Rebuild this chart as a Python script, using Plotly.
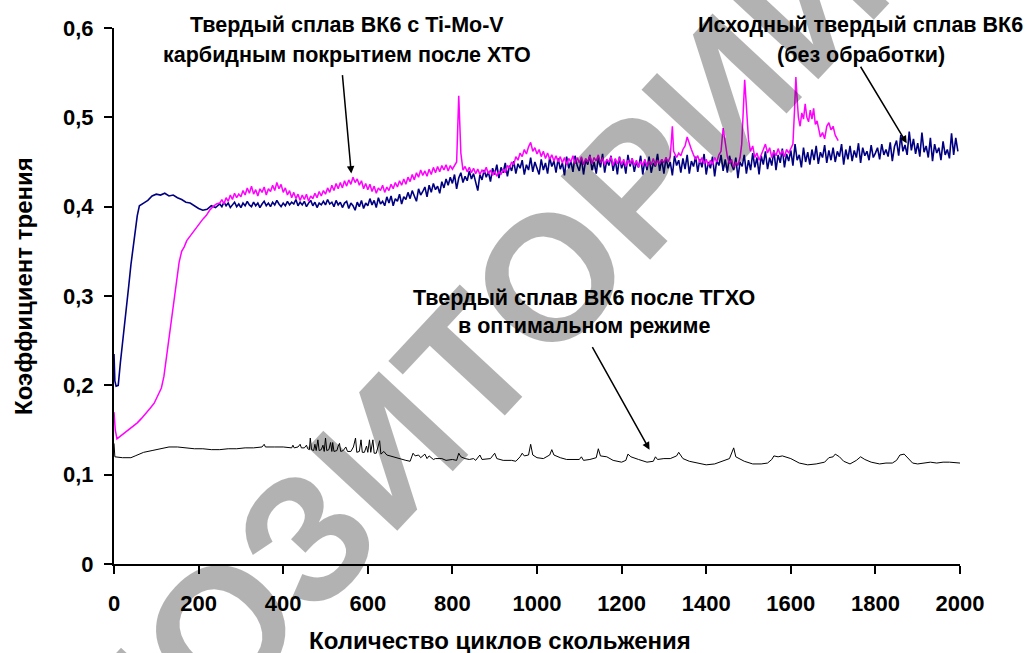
import plotly.graph_objects as go

# ---------------- data ----------------
x_ticks = [0, 200, 400, 600, 800, 1000, 1200, 1400, 1600, 1800, 2000]
x_tick_labels = ["0", "200", "400", "600", "800", "1000", "1200", "1400", "1600", "1800", "2000"]
y_ticks = [0, 0.1, 0.2, 0.3, 0.4, 0.5, 0.6]
y_tick_labels = ["0", "0,1", "0,2", "0,3", "0,4", "0,5", "0,6"]

# Исходный твердый сплав ВК6 (без обработки) - navy
navy_x = [0, 2, 5, 10, 15, 20, 25, 30, 35, 40, 45, 50, 55, 60, 65, 70, 80, 90, 100, 110,
          120, 130, 140, 150, 160, 170, 180, 190, 200, 210, 220, 230, 240] + list(range(250, 2000, 5))
navy_y = [0.235, 0.205, 0.199, 0.200, 0.225, 0.245, 0.268, 0.290, 0.312, 0.335, 0.355, 0.372,
          0.390, 0.401, 0.403, 0.404, 0.407, 0.412, 0.414, 0.413,
          0.415, 0.412, 0.413, 0.410, 0.408, 0.405, 0.404, 0.401, 0.398, 0.396, 0.397, 0.401, 0.399,
          # 250 .. 1995 step 5
          .403, .400, .405, .401, .404, .399, .402, .405, .400, .403,
          .399, .404, .401, .406, .402, .400, .405, .401, .404, .399,
          .403, .406, .401, .404, .400, .405, .402, .407, .403, .400,
          .404, .401, .406, .402, .405, .403, .408, .401, .405, .402,
          .406, .400, .404, .407, .401, .405, .399, .404, .402, .406,
          .402, .408, .403, .405, .400, .407, .402, .405, .399, .404,
          .406, .398, .404, .401, .396, .405, .400, .407, .398, .404,
          .401, .409, .402, .407, .399, .410, .403, .406, .401, .411,
          .404, .412, .401, .409, .406, .414, .403, .411, .408, .416,
          .409, .418, .412, .406, .420, .413, .417, .422, .411, .424,
          .416, .426, .419, .423, .415, .428, .421, .431, .424, .433,
          .426, .436, .420, .432, .438, .427, .434, .429, .440, .431,
          .437, .428, .418, .436, .430, .441, .433, .439, .428, .443,
          .436, .447, .432, .444, .438, .449, .434, .446, .440, .451,
          .437, .448, .443, .452, .436, .447, .441, .455, .439, .450,
          .444, .436, .453, .441, .449, .437, .455, .445, .451, .438,
          .454, .442, .449, .435, .456, .443, .451, .439, .457, .446,
          .440, .454, .436, .452, .447, .458, .441, .450, .437, .455,
          .444, .459, .438, .452, .446, .457, .440, .453, .436, .456,
          .443, .451, .437, .458, .445, .454, .439, .450, .444, .457,
          .436, .452, .441, .456, .438, .449, .445, .459, .440, .453,
          .437, .455, .443, .450, .435, .457, .446, .452, .438, .454,
          .442, .458, .437, .451, .445, .456, .439, .453, .444, .459,
          .436, .450, .443, .456, .434, .452, .446, .458, .440, .453,
          .438, .457, .447, .441, .455, .432, .450, .445, .458, .437,
          .452, .441, .460, .444, .455, .436, .457, .447, .462, .442,
          .455, .446, .463, .441, .458, .449, .465, .444, .459, .451,
          .463, .446, .470, .452, .458, .444, .466, .450, .461, .447,
          .464, .452, .468, .448, .461, .455, .469, .449, .463, .452,
          .466, .450, .462, .456, .470, .447, .464, .453, .468, .451,
          .463, .455, .471, .449, .466, .457, .462, .452, .469, .455,
          .460, .466, .453, .470, .458, .464, .456, .472, .451, .467,
          .474, .457, .480, .462, .469, .458, .484, .463, .476, .459,
          .471, .456, .483, .461, .468, .455, .477, .451, .470, .460,
          .466, .452, .473, .458, .464, .454, .482, .458, .477, .462]

# Твердый сплав ВК6 с Ti-Mo-V карбидным покрытием после ХТО - magenta
mag_head_x = [0, 3, 7, 15, 25, 35, 45, 55, 65, 75, 85, 95, 105, 112, 118, 124, 130, 136, 142, 148,
              154, 160, 166, 172, 178, 184, 190, 196, 202, 210, 218, 226, 234, 242]
mag_head_y = [0.170, 0.150, 0.140, 0.143, 0.147, 0.151, 0.155, 0.158, 0.163, 0.168, 0.174, 0.180,
              0.190, 0.197, 0.210, 0.232, 0.255, 0.275, 0.298, 0.322,
              0.338, 0.350, 0.355, 0.362, 0.366, 0.370, 0.374, 0.378, 0.381, 0.386, 0.390, 0.396,
              0.400, 0.403]
mag_mid_x = list(range(250, 1300, 5))
mag_mid_y = [.404, .408, .403, .410, .406, .413, .408, .415, .410, .414,
             .411, .418, .413, .421, .415, .423, .414, .419, .412, .420,
             .416, .422, .413, .420, .417, .424, .418, .427, .420, .425,
             .416, .421, .413, .418, .410, .416, .409, .414, .407, .413,
             .408, .414, .406, .412, .409, .415, .410, .417, .412, .418,
             .414, .421, .416, .424, .418, .426, .420, .427, .421, .429,
             .423, .430, .425, .433, .427, .431, .424, .429, .420, .426,
             .419, .425, .417, .423, .415, .421, .418, .424, .416, .422,
             .418, .425, .420, .427, .422, .429, .424, .431, .425, .433,
             .428, .436, .430, .438, .433, .441, .435, .440, .434, .442,
             .436, .444, .438, .445, .439, .446, .441, .447, .440, .446,
             .442, .446, .450, .524, .460, .441, .445, .439, .444, .438,
             .443, .437, .442, .436, .441, .438, .444, .437, .441, .435,
             .440, .434, .439, .436, .442, .438, .446, .443, .450, .447,
             .456, .452, .460, .456, .464, .459, .467, .472, .462, .466,
             .459, .464, .456, .462, .454, .460, .453, .458, .451, .457,
             .450, .456, .449, .455, .447, .454, .450, .457, .448, .455,
             .449, .456, .447, .454, .450, .457, .448, .455, .451, .458,
             .449, .455, .447, .453, .450, .456, .446, .454, .448, .455,
             .447, .453, .445, .452, .448, .454, .446, .452, .444, .451,
             .446, .453, .445, .451, .447, .454, .446, .452, .448, .453]
mag_tail_x = [1300, 1305, 1310, 1315, 1320, 1323, 1330, 1335, 1340, 1345, 1350, 1355, 1360,
              1365, 1370, 1375, 1380, 1385, 1390, 1395, 1400, 1405, 1410, 1415, 1420, 1425,
              1430, 1435, 1440, 1445, 1450, 1455, 1460, 1465, 1470, 1475, 1480, 1484, 1488,
              1491, 1494, 1497, 1500, 1505, 1510, 1515, 1520, 1525, 1530, 1535, 1540, 1545,
              1550, 1555, 1560, 1565, 1570, 1575, 1580, 1585, 1590, 1595, 1600, 1605, 1609,
              1612, 1615, 1618, 1622, 1626, 1630, 1634, 1638, 1642, 1646, 1650, 1654, 1658,
              1662, 1666, 1670, 1675, 1680, 1685, 1690, 1695, 1700, 1705, 1709, 1712]
mag_tail_y = [.449, .455, .450, .456, .490, .462, .455, .460, .457, .464, .468, .478, .470,
              .464, .458, .453, .457, .449, .455, .448, .453, .446, .452, .447, .455, .450,
              .458, .462, .488, .470, .456, .448, .453, .444, .450, .446, .455, .470, .510,
              .542, .520, .490, .475, .462, .468, .455, .460, .452, .458, .465, .470, .460,
              .466, .455, .462, .457, .465, .458, .463, .456, .464, .460, .466, .470, .510,
              .545, .520, .500, .490, .505, .498, .515, .500, .495, .508, .498, .510, .492,
              .496, .485, .478, .483, .476, .490, .494, .486, .490, .480, .476, .474]
mag_x = mag_head_x + mag_mid_x + mag_tail_x
mag_y = mag_head_y + mag_mid_y + mag_tail_y

# Твердый сплав ВК6 после ТГХО в оптимальном режиме - black
blk_x = [0, 2, 20, 40, 50, 70, 90, 110, 130, 150, 170, 190, 210, 230, 250, 270, 290, 310, 330,
         350, 355, 358, 380, 400, 420, 423, 426, 435, 440, 443, 450, 455, 458, 462, 464, 467,
         472, 475, 478, 482, 485, 490, 494, 497, 500, 503, 508, 512, 515, 517, 520, 527, 530,
         533, 536, 542, 548, 552, 560, 566, 571, 574, 580, 584, 587, 592, 597, 600, 604, 607,
         612, 615, 620, 628, 631, 638, 645, 660, 670, 690, 700, 707, 712, 720, 725, 735, 740,
         745, 755, 760, 775, 785,
         800, 810, 815, 820, 830, 840, 850, 855, 865, 870, 890, 900, 905, 920, 940, 950, 960,
         965, 970, 980, 985, 990, 1000, 1015, 1030, 1035, 1040, 1055, 1070, 1085, 1100, 1105,
         1110, 1125, 1140, 1145, 1150, 1165, 1180, 1200, 1210, 1215, 1222, 1240, 1260, 1275,
         1280, 1285, 1300, 1315, 1330, 1335, 1345, 1360, 1380, 1400, 1420, 1440, 1455, 1465,
         1470, 1490, 1510, 1530, 1545, 1555, 1560, 1570, 1580, 1600, 1620, 1640, 1660, 1680,
         1690, 1700, 1705, 1715, 1725, 1740, 1755, 1765, 1775, 1790, 1810, 1825, 1840, 1850,
         1858, 1868, 1878, 1888, 1900, 1915, 1930, 1945, 1960, 1975, 1990, 2000]
blk_y = [0.135, 0.120, 0.119, 0.119, 0.121, 0.125, 0.127, 0.129, 0.131, 0.131, 0.130, 0.129,
         0.129, 0.128, 0.128, 0.129, 0.129, 0.130, 0.130,
         0.131, 0.134, 0.131, 0.131, 0.131, 0.130, 0.133, 0.130, 0.131, 0.134, 0.130, 0.130,
         0.133, 0.129, 0.128, 0.141, 0.128,
         0.127, 0.134, 0.127, 0.139, 0.127, 0.128, 0.133, 0.126, 0.141, 0.127, 0.128, 0.136,
         0.126, 0.136, 0.126, 0.127, 0.132,
         0.135, 0.126, 0.127, 0.131, 0.126, 0.126, 0.131, 0.141, 0.125, 0.126, 0.139, 0.125,
         0.125, 0.132, 0.125, 0.139, 0.125,
         0.139, 0.124, 0.124, 0.138, 0.123, 0.126, 0.122, 0.120, 0.118, 0.116, 0.115, 0.124,
         0.121, 0.122, 0.119, 0.123, 0.118,
         0.121, 0.117, 0.118, 0.118, 0.116,
         0.117, 0.116, 0.124, 0.120, 0.118, 0.117, 0.118, 0.116, 0.122, 0.117, 0.118, 0.124,
         0.118, 0.116, 0.116, 0.115, 0.120,
         0.124, 0.121, 0.122, 0.134, 0.122, 0.119, 0.118, 0.122, 0.128, 0.122, 0.119, 0.117,
         0.117, 0.117, 0.120,
         0.116, 0.117, 0.119, 0.129, 0.121, 0.120, 0.116, 0.114, 0.116, 0.123, 0.120, 0.117,
         0.114, 0.115,
         0.120, 0.117, 0.118, 0.118, 0.121, 0.125, 0.118, 0.115, 0.113, 0.111, 0.112, 0.115,
         0.118, 0.130,
         0.120, 0.115, 0.112, 0.112, 0.113, 0.117, 0.121, 0.120, 0.121, 0.118, 0.113, 0.111,
         0.112, 0.114,
         0.119, 0.120, 0.123, 0.120, 0.115, 0.112, 0.116, 0.120, 0.117, 0.114, 0.112, 0.113,
         0.113, 0.116,
         0.122, 0.123, 0.118, 0.113, 0.112, 0.113, 0.114, 0.113, 0.114, 0.114, 0.113, 0.113]

FONT = "Liberation Sans, Arial, sans-serif"
ANN_FONT = dict(size=21.5, family=FONT, color="black", weight="bold")

fig = go.Figure()
fig.add_trace(go.Scatter(x=blk_x, y=blk_y, mode="lines",
                         line=dict(color="#000000", width=1), showlegend=False))
fig.add_trace(go.Scatter(x=navy_x, y=navy_y, mode="lines",
                         line=dict(color="#000080", width=1.6), showlegend=False))
fig.add_trace(go.Scatter(x=mag_x, y=mag_y, mode="lines",
                         line=dict(color="#FF00FF", width=1.5), showlegend=False))


def px_x(px):
    return (px - 114) / 846


def px_y(py):
    return (564 - py) / 536


def label(text, px, py, size=None, angle=0):
    f = dict(ANN_FONT)
    if size:
        f["size"] = size
    return dict(text=text, x=px_x(px), y=px_y(py), xref="paper", yref="paper",
                showarrow=False, xanchor="center", yanchor="middle", textangle=angle, font=f)


annots = [
    label("Твердый сплав ВК6 с Ti-Mo-V", 347, 25),
    label("карбидным покрытием после ХТО", 347, 55),
    label("Исходный твердый сплав ВК6", 860, 25),
    label("(без обработки)", 861, 55),
    label("Твердый сплав ВК6 после ТГХО", 584, 298),
    label("в оптимальном режиме", 584, 326),
    # axis titles
    label("Количество циклов скольжения", 500, 641, size=24),
    label("Коэффициент трения", 23, 286, size=24, angle=-90),
    # arrows
    dict(x=561, y=0.437, xref="x", yref="y", ax=-9, ay=-100, text="", showarrow=True,
         arrowhead=2, arrowsize=1, arrowwidth=1.5, arrowcolor="black"),
    dict(x=1874, y=0.471, xref="x", yref="y", ax=-47, ay=-78, text="", showarrow=True,
         arrowhead=2, arrowsize=1, arrowwidth=1.5, arrowcolor="black"),
    dict(x=1266, y=0.128, xref="x", yref="y", ax=-58, ay=-104, text="", showarrow=True,
         arrowhead=2, arrowsize=1, arrowwidth=1.5, arrowcolor="black"),
    # watermark
    dict(text="РЕПОЗИТОРИЙ", x=px_x(388), y=px_y(450), xref="paper", yref="paper",
         showarrow=False, xanchor="center", yanchor="middle", textangle=-47,
         font=dict(size=178, family=FONT, color="rgba(0,0,0,0.3)", weight="bold")),
]

fig.update_layout(
    width=1025, height=653,
    margin=dict(l=114, r=65, t=28, b=89, autoexpand=False),
    paper_bgcolor="white", plot_bgcolor="white",
    font=dict(family=FONT, color="black"),
    annotations=annots,
    xaxis=dict(range=[0, 2000], tickvals=x_ticks, ticktext=x_tick_labels, automargin=False,
               showgrid=False, zeroline=False, showline=True, linecolor="black", linewidth=2,
               ticks="outside", ticklen=8, tickwidth=2, tickcolor="black",
               tickfont=dict(size=22, family=FONT, weight="bold"), ticklabelstandoff=11),
    yaxis=dict(range=[0, 0.6], tickvals=y_ticks, ticktext=y_tick_labels, automargin=False,
               showgrid=False, zeroline=False, showline=True, linecolor="black", linewidth=2,
               ticks="outside", ticklen=8, tickwidth=2, tickcolor="black",
               tickfont=dict(size=22, family=FONT, weight="bold"), ticklabelstandoff=6),
)

fig.write_html("out.html")
